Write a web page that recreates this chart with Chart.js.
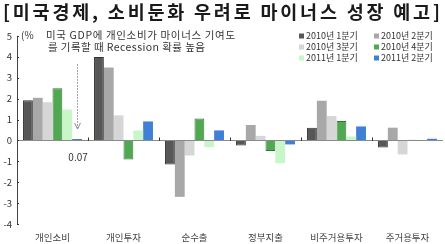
<!DOCTYPE html>
<html><head><meta charset="utf-8">
<script src="https://cdn.jsdelivr.net/npm/chart.js@4.4.0/dist/chart.umd.min.js"></script>
<style>html,body{margin:0;padding:0;background:#fff}#wrap{width:445px;height:244px;position:relative}</style>
</head><body><div id="wrap"><canvas id="c" width="445" height="244"></canvas></div>
<script>
const titleText = '[미국경제, 소비둔화 우려로 마이너스 성장 예고]';
const unitText = '(%';
const noteLines = ['미국 GDP에 개인소비가 마이너스 기여도', '를 기록할 때 Recession 확률 높음'];
const categories = ['개인소비', '개인투자', '순수출', '정부지출', '비주거용투자', '주거용투자'];
const seriesLabels = ['2010년 1분기', '2010년 2분기', '2010년 3분기', '2010년 4분기', '2011년 1분기', '2011년 2분기'];
const q1_2010 = [1.92, 4.00, -1.15, -0.24, 0.61, -0.34];
const q2_2010 = [2.04, 3.49, -2.70, 0.74, 1.90, 0.61];
const q3_2010 = [1.83, 1.20, -0.72, 0.22, 1.17, -0.67];
const q4_2010 = [2.50, -0.91, 1.05, -0.51, 0.93, 0.03];
const q1_2011 = [1.48, 0.48, -0.32, -1.09, 0.19, 0.01];
const q2_2011 = [0.07, 0.91, 0.48, -0.19, 0.67, 0.08];
const yTicks = [5, 4, 3, 2, 1, 0, -1, -2, -3, -4];
const calloutLabel = '0.07';

const fills = ['#575757', '#a8a8a8', '#d6d6d6', '#52a852', '#c8f6c8', '#3f7fd6'];
const borders = ['#333333', '#9a9a9a', '#d0d0d0', '#2e7a2e', '#c8f6c8', '#3a74c8'];
const allSeries = [q1_2010, q2_2010, q3_2010, q4_2010, q1_2011, q2_2011];
const FONT = '"Noto Sans CJK KR", "Noto Sans", sans-serif';

function fitText(ctx, text, x, y, width) {
  ctx.letterSpacing = '0px';
  const w = ctx.measureText(text).width;
  const n = [...text].length;
  const sp = Math.max(0, (width - w) / (n - 1));
  ctx.letterSpacing = sp.toFixed(2) + 'px';
  ctx.fillText(text, x, y);
  ctx.letterSpacing = '0px';
}

const overlay = {
  id: 'overlay',
  afterDraw(chart) {
    const ctx = chart.ctx, y = chart.scales.y, x = chart.scales.x, ca = chart.chartArea;
    ctx.save();
    ctx.textBaseline = 'middle';
    ctx.textAlign = 'left';
    // title
    ctx.fillStyle = '#1a1a1a';
    ctx.font = 'bold 18.5px ' + FONT;
    fitText(ctx, titleText, 3, 12, 437);
    // unit
    ctx.font = '10px ' + FONT;
    ctx.fillStyle = '#333';
    ctx.fillText(unitText, 21, 35);
    // note
    ctx.font = '10.5px ' + FONT;
    ctx.fillStyle = '#333';
    fitText(ctx, noteLines[0], 46, 35, 189);
    fitText(ctx, noteLines[1], 48, 47, 157);
    // zero line
    const z = y.getPixelForValue(0);
    ctx.strokeStyle = '#8a8a8a';
    ctx.lineWidth = 1;
    ctx.beginPath(); ctx.moveTo(ca.left, Math.round(z) + 0.5); ctx.lineTo(ca.right, Math.round(z) + 0.5); ctx.stroke();
    // category boundary ticks
    ctx.strokeStyle = '#333';
    for (let i = 1; i < categories.length; i++) {
      const bx = Math.round((x.getPixelForValue(i - 1) + x.getPixelForValue(i)) / 2) + 0.5;
      ctx.beginPath(); ctx.moveTo(bx, z - 3); ctx.lineTo(bx, z + 0.5); ctx.stroke();
    }
    // y minor ticks
    yTicks.forEach(v => {
      const ty = Math.round(y.getPixelForValue(v)) + 0.5;
      ctx.beginPath(); ctx.moveTo(ca.left, ty); ctx.lineTo(ca.left + 2, ty); ctx.stroke();
    });
    // arrow to the 2011 Q2 consumption bar
    const bar = chart.getDatasetMeta(5).data[0];
    const ax = Math.round(bar.x) + 0.5;
    const yTop = y.getPixelForValue(3.65), yBot = y.getPixelForValue(0.55);
    ctx.strokeStyle = '#888';
    ctx.setLineDash([1.5, 1.5]);
    ctx.beginPath(); ctx.moveTo(ax, yTop); ctx.lineTo(ax, yBot); ctx.stroke();
    ctx.setLineDash([]);
    ctx.beginPath(); ctx.moveTo(ax - 3, yBot - 6); ctx.lineTo(ax, yBot); ctx.lineTo(ax + 3, yBot - 6); ctx.stroke();
    // callout value
    ctx.fillStyle = '#333';
    ctx.font = '10px ' + FONT;
    ctx.textAlign = 'center';
    ctx.fillText(calloutLabel, bar.x + 1, y.getPixelForValue(-0.8));
    // legend (2 columns x 3 rows)
    ctx.textAlign = 'left';
    ctx.font = '9px ' + FONT;
    seriesLabels.forEach((lab, i) => {
      const col = i % 2, row = Math.floor(i / 2);
      const lx = 299 + col * 75, ly = 36 + row * 11;
      ctx.fillStyle = fills[i];
      ctx.fillRect(lx, ly - 2.5, 5, 5);
      ctx.fillStyle = '#333';
      fitText(ctx, lab, lx + 7, ly, 48);
    });
    ctx.restore();
  }
};

new Chart(document.getElementById('c'), {
  type: 'bar',
  data: {
    labels: categories,
    datasets: seriesLabels.map((lab, i) => ({
      label: lab,
      data: allSeries[i],
      backgroundColor: fills[i],
      borderColor: borders[i],
      borderWidth: (i === 0 || i === 3) ? 1 : 0,
      categoryPercentage: 0.83,
      barPercentage: 1.0
    }))
  },
  options: {
    responsive: false,
    animation: false,
    devicePixelRatio: 1,
    layout: { padding: { top: 36, right: 2, left: 0, bottom: 0 } },
    plugins: { legend: { display: false }, title: { display: false }, tooltip: { enabled: false } },
    scales: {
      x: {
        grid: { display: false, drawTicks: false },
        border: { display: false },
        ticks: { font: { family: FONT, size: 9.5 }, color: '#444', padding: 8, maxRotation: 0 },
        afterFit: s => { s.height = 20; }
      },
      y: {
        min: -4, max: 5,
        afterBuildTicks: s => { s.ticks = yTicks.slice().reverse().map(v => ({ value: v })); },
        grid: { display: false, drawTicks: false },
        border: { display: true, color: '#444', width: 1 },
        ticks: { font: { family: FONT, size: 9.5 }, color: '#333', padding: 5 },
        afterFit: s => { s.width = 17; }
      }
    }
  },
  plugins: [overlay]
});
</script>
</body></html>
